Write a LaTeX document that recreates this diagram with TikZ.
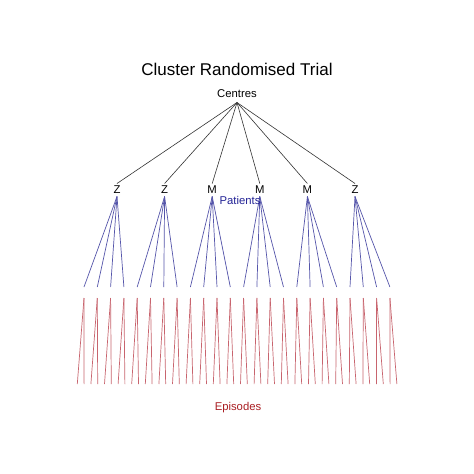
\documentclass[tikz,border=0pt]{standalone}
\usepackage{fontspec}
\setmainfont{Liberation Sans}
\definecolor{bluel}{RGB}{85,85,170}
\definecolor{redl}{RGB}{200,100,110}
\definecolor{patc}{RGB}{35,35,150}
\definecolor{epic}{RGB}{170,30,35}
\tikzset{
  lbl/.style={inner sep=0pt, font=\fontsize{11.3}{12}\selectfont},
  toplink/.style={draw=black!80, line width=0.6pt},
  patlink/.style={draw=bluel, line width=0.7pt},
  epilink/.style={draw=redl, line width=0.7pt},
}
\begin{document}
\begin{tikzpicture}[x=1pt,y=-1pt]
\useasboundingbox[fill=white] (0,0) rectangle (474,474);
\node[inner sep=0pt, font=\fontsize{17}{20}\selectfont] (title) at (237,69) {Cluster Randomised Trial};
\node[lbl] (centres) at (237,94) {Centres};
\coordinate (cpt) at (237,102.5);
% centres
\foreach \i/\t in {0/Z,1/Z,2/M,3/M,4/M,5/Z}{
  \pgfmathsetmacro{\cx}{117+47.6*\i}
  \node[lbl] (c\i) at (\cx,189.5) {\t};
  \coordinate (ct\i) at (\cx,183.5);
  \coordinate (cb\i) at (\cx,196.5);
  \draw[toplink] (cpt) -- (ct\i);
}
% patients
\foreach \k in {0,...,23}{
  \pgfmathsetmacro{\px}{84+13.3*\k}
  \pgfmathtruncatemacro{\g}{int(\k/4)}
  \coordinate (pb\k) at (\px,287);
  \coordinate (pt\k) at (\px,298);
  \draw[patlink] (cb\g) -- (pb\k);
}
% episodes
\foreach \j in {0,...,47}{
  \pgfmathsetmacro{\ex}{77.3+6.8*\j}
  \pgfmathtruncatemacro{\p}{int(\j/2)}
  \coordinate (e\j) at (\ex,384);
  \draw[epilink] (pt\p) -- (e\j);
}
\node[lbl, text=patc] (patients) at (240,200.5) {Patients};
\node[lbl, text=epic] (episodes) at (238,408) {Episodes};
\end{tikzpicture}
\end{document}
